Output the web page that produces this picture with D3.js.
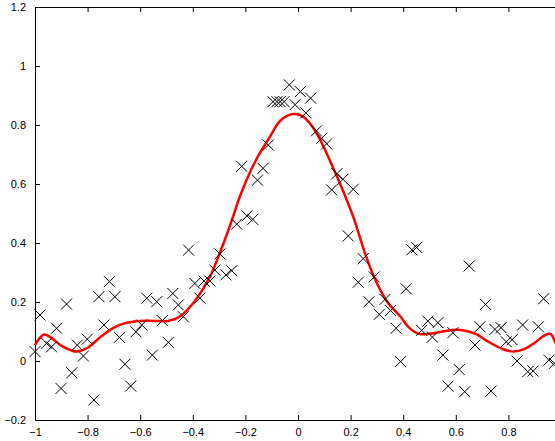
<!DOCTYPE html>
<html>
<head>
<meta charset="utf-8">
<script src="https://cdn.jsdelivr.net/npm/d3@7"></script>
<style>
  html, body { margin: 0; padding: 0; background: #fff; overflow: hidden; }
  svg { display: block; }
  .tick text { font-family: "Liberation Sans", Arial, sans-serif; font-size: 11px; fill: #000; }
</style>
</head>
<body>
<svg id="chart" width="555" height="441"></svg>
<script>
// Noisy samples (x, y)
const sampleX = [
  -1.000, -0.981, -0.956, -0.937, -0.918, -0.901, -0.880, -0.860, -0.839, -0.816,
  -0.801, -0.776, -0.757, -0.738, -0.717, -0.696, -0.679, -0.658, -0.636, -0.616,
  -0.594, -0.575, -0.554, -0.537, -0.516, -0.493, -0.476, -0.455, -0.436, -0.416,
  -0.392, -0.373, -0.357, -0.335, -0.316, -0.297, -0.274, -0.252, -0.233, -0.214,
  -0.194, -0.172, -0.154, -0.133, -0.113, -0.095, -0.080, -0.068, -0.053, -0.033,
  -0.011, 0.009, 0.030, 0.048, 0.070, 0.090, 0.109, 0.128, 0.148, 0.171,
  0.210, 0.191, 0.229, 0.248, 0.270, 0.290, 0.309, 0.331, 0.352, 0.373,
  0.390, 0.411, 0.433, 0.451, 0.470, 0.494, 0.511, 0.532, 0.551, 0.571,
  0.589, 0.613, 0.634, 0.651, 0.673, 0.692, 0.713, 0.734, 0.749, 0.772,
  0.792, 0.814, 0.833, 0.854, 0.874, 0.894, 0.914, 0.934, 0.954, 0.975
];
const sampleY = [
  0.032, 0.156, 0.060, 0.048, 0.111, -0.093, 0.193, -0.040, 0.054, 0.017,
  0.074, -0.132, 0.218, 0.122, 0.269, 0.218, 0.080, -0.011, -0.085, 0.099,
  0.122, 0.213, 0.020, 0.201, 0.137, 0.063, 0.229, 0.190, 0.150, 0.376,
  0.263, 0.213, 0.271, 0.271, 0.308, 0.363, 0.292, 0.306, 0.464, 0.660,
  0.492, 0.480, 0.613, 0.653, 0.732, 0.879, 0.879, 0.879, 0.879, 0.936,
  0.869, 0.913, 0.841, 0.891, 0.780, 0.755, 0.736, 0.580, 0.635, 0.616,
  0.582, 0.424, 0.267, 0.347, 0.201, 0.285, 0.158, 0.209, 0.171, 0.111,
  -0.002, 0.245, 0.377, 0.385, 0.104, 0.135, 0.081, 0.130, 0.020, -0.085,
  0.096, -0.029, -0.104, 0.322, 0.054, 0.116, 0.192, -0.102, 0.107, 0.113,
  0.065, 0.072, 0.000, 0.122, -0.036, -0.034, 0.116, 0.211, 0.003, -0.008
];

// Fitted regression curve
const fitX = [
  -1.00, -0.98, -0.965, -0.94, -0.90, -0.86, -0.84, -0.80, -0.75, -0.70,
  -0.65, -0.60, -0.55, -0.50, -0.46, -0.43, -0.40, -0.37, -0.335, -0.30,
  -0.26, -0.22, -0.18, -0.15, -0.11, -0.07, -0.04, -0.01, 0.02, 0.05,
  0.085, 0.13, 0.17, 0.21, 0.255, 0.29, 0.34, 0.39, 0.42, 0.46,
  0.50, 0.55, 0.60, 0.64, 0.68, 0.73, 0.78, 0.82, 0.86, 0.90,
  0.94, 0.96, 0.975, 1.00
];
const fitY = [
  0.054, 0.080, 0.090, 0.080, 0.052, 0.035, 0.032, 0.045, 0.082, 0.113,
  0.130, 0.136, 0.136, 0.135, 0.145, 0.165, 0.195, 0.232, 0.285, 0.360,
  0.455, 0.560, 0.645, 0.697, 0.755, 0.812, 0.832, 0.837, 0.828, 0.800,
  0.749, 0.662, 0.580, 0.489, 0.365, 0.283, 0.200, 0.150, 0.115, 0.092,
  0.092, 0.100, 0.106, 0.102, 0.090, 0.062, 0.040, 0.032, 0.040, 0.062,
  0.088, 0.092, 0.070, 0.020
];

const xTicks = [-1, -0.8, -0.6, -0.4, -0.2, 0, 0.2, 0.4, 0.6, 0.8];
const yTicks = [-0.2, 0, 0.2, 0.4, 0.6, 0.8, 1, 1.2];

const svg = d3.select("#chart");
const plotLeft = 35, plotRight = 561, plotTop = 7, plotBottom = 420;

const x = d3.scaleLinear().domain([-1, 1]).range([plotLeft, plotRight]);
const y = d3.scaleLinear().domain([-0.2, 1.2]).range([plotBottom, plotTop]);

const fmt = v => (v < 0 ? "\u2212" : "") + String(Math.abs(+v.toFixed(1)));

// Axes with inward ticks, MATLAB style
svg.append("g")
  .attr("transform", `translate(0,${plotBottom})`)
  .call(d3.axisBottom(x).tickValues(xTicks).tickFormat(fmt).tickSizeInner(-5).tickSizeOuter(0).tickPadding(8))
  .call(g => g.select(".domain").attr("stroke", "#000").attr("stroke-width", 1))
  .call(g => g.selectAll(".tick line").attr("stroke", "#000"));

svg.append("g")
  .attr("transform", `translate(0,${plotTop})`)
  .call(d3.axisTop(x).tickValues(xTicks).tickFormat("").tickSizeInner(-5).tickSizeOuter(0))
  .call(g => g.select(".domain").attr("stroke", "#000"))
  .call(g => g.selectAll(".tick line").attr("stroke", "#000"));

svg.append("g")
  .attr("transform", `translate(${plotLeft},0)`)
  .call(d3.axisLeft(y).tickValues(yTicks).tickFormat(fmt).tickSizeInner(-5).tickSizeOuter(0).tickPadding(9))
  .call(g => g.select(".domain").attr("stroke", "#000"))
  .call(g => g.selectAll(".tick line").attr("stroke", "#000"));

svg.append("g")
  .attr("transform", `translate(${plotRight},0)`)
  .call(d3.axisRight(y).tickValues(yTicks).tickFormat("").tickSizeInner(-5).tickSizeOuter(0))
  .call(g => g.select(".domain").attr("stroke", "#000"))
  .call(g => g.selectAll(".tick line").attr("stroke", "#000"));

// Fitted curve
const fit = fitX.map((v, i) => [v, fitY[i]]);
svg.append("path")
  .datum(fit)
  .attr("fill", "none")
  .attr("stroke", "#ff0000")
  .attr("stroke-width", 2.5)
  .attr("stroke-linejoin", "round")
  .attr("d", d3.line().x(d => x(d[0])).y(d => y(d[1])).curve(d3.curveCatmullRom.alpha(0.5)));

// Sample markers (x-shaped crosses)
const r = 5.5;
const samples = sampleX.map((v, i) => [v, sampleY[i]]);
svg.append("g")
  .selectAll("path")
  .data(samples)
  .join("path")
  .attr("transform", d => `translate(${x(d[0])},${y(d[1])})`)
  .attr("d", `M${-r},${-r}L${r},${r}M${-r},${r}L${r},${-r}`)
  .attr("stroke", "#000")
  .attr("stroke-width", 1)
  .attr("fill", "none");
</script>
</body>
</html>
